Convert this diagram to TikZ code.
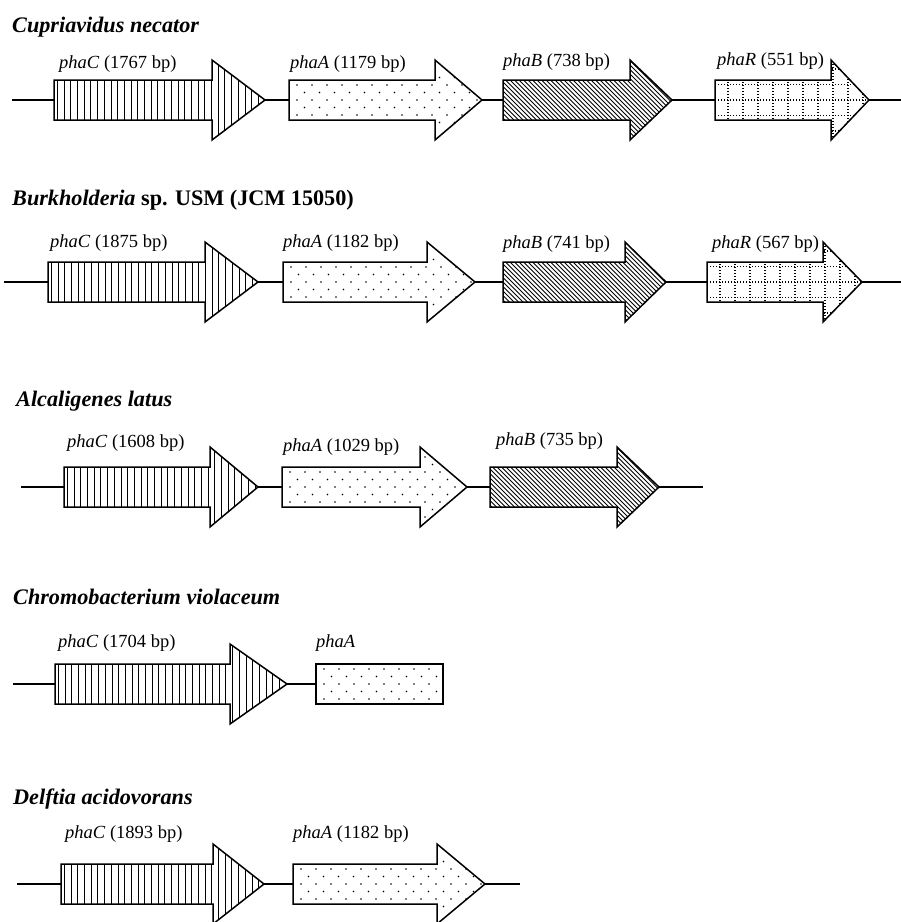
\documentclass[tikz,border=0pt]{standalone}
\usepackage{fontspec}
\setmainfont{Liberation Serif}
\tikzset{
  geneoutline/.style={draw=black, line width=1.5pt, line join=miter},
  backbone/.style={draw=black, line width=1.1pt},
  stripe/.style={draw=black, line width=0.9pt},
  hatchline/.style={draw=black, line width=0.75pt},
  griddot/.style={draw=black, line width=1.05pt, dash pattern=on 1.4pt off 1.6pt},
  titletext/.style={anchor=base west, inner sep=0pt, font=\fontsize{22.2}{25}\selectfont\bfseries},
  labeltext/.style={anchor=base west, inner sep=0pt, font=\fontsize{18.5}{21}\selectfont},
}
% patterns: #1 x-start, #2 x-end, #3 centre y
\newcommand\patstripes[3]{%
  \foreach \k in {0,...,45}{\draw[stripe] ({#1+3.4+6.7*\k},#3-45) -- ++(0,90);}}
\newcommand\patdots[3]{%
  \foreach \j in {-4,-2,0,2,4}{\foreach \k in {0,...,14}{\fill ({#1+8+15*\k},{#3+7.5*\j}) circle (0.9);}}%
  \foreach \j in {-5,-3,-1,1,3,5}{\foreach \k in {0,...,14}{\fill ({#1+15.5+15*\k},{#3+7.5*\j}) circle (0.9);}}}
\newcommand\pathatch[3]{%
  \foreach \k in {0,...,68}{\draw[hatchline] ({#1-90+4.5*\k},#3-45) -- ++(90,90);}}
\newcommand\patgrid[3]{%
  \foreach \k in {0,...,12}{\draw[griddot] ({#1+13+15*\k},#3-45) -- ++(0,90);}%
  \foreach \j in {-3,...,3}{\draw[griddot] (#1,{#3+15.5*\j}) -- ++(200,0);}}
% gene arrow: #1 name, #2 start x, #3 head base x, #4 tip x, #5 centre y, #6 pattern
\newcommand\gene[6]{%
  \coordinate (#1s) at (#2,#5);
  \coordinate (#1e) at (#4,#5);
  \begin{scope}
    \clip (#2,#5-20) -- (#3,#5-20) -- (#3,#5-40) -- (#4,#5) -- (#3,#5+40) -- (#3,#5+20) -- (#2,#5+20) -- cycle;
    #6{#2}{#4}{#5}
  \end{scope}
  \draw[geneoutline] (#2,#5-20) -- (#3,#5-20) -- (#3,#5-40) -- (#4,#5) -- (#3,#5+40) -- (#3,#5+20) -- (#2,#5+20) -- cycle;
}
\begin{document}
\begin{tikzpicture}[x=1pt,y=-1pt]
\useasboundingbox (0,0) rectangle (901,922);

% ---------------- Row 1: Cupriavidus necator
\node[titletext] (t1) at (12,32) {\itshape Cupriavidus necator};
\coordinate (r1a) at (12,100);
\coordinate (r1z) at (901,100);
\gene{c1}{54}{212}{265}{100}{\patstripes}
\gene{a1}{289}{435}{482}{100}{\patdots}
\gene{b1}{503}{630}{672}{100}{\pathatch}
\gene{r1}{715}{831}{869}{100}{\patgrid}
\draw[backbone] (r1a) -- (c1s);
\draw[backbone] (c1e) -- (a1s);
\draw[backbone] (a1e) -- (b1s);
\draw[backbone] (b1e) -- (r1s);
\draw[backbone] (r1e) -- (r1z);
\node[labeltext] (lc1) at (59,68) {\textit{phaC} (1767 bp)};
\node[labeltext] (la1) at (290,68) {\textit{phaA} (1179 bp)};
\node[labeltext] (lb1) at (503,66) {\textit{phaB} (738 bp)};
\node[labeltext] (lr1) at (717,65) {\textit{phaR} (551 bp)};

% ---------------- Row 2: Burkholderia
\node[titletext] (t2) at (12,205) {\textit{Burkholderia} sp. USM (JCM 15050)};
\coordinate (r2a) at (4,282);
\coordinate (r2z) at (901,282);
\gene{c2}{48}{205}{258}{282}{\patstripes}
\gene{a2}{283}{427}{475}{282}{\patdots}
\gene{b2}{503}{625}{666}{282}{\pathatch}
\gene{r2}{707}{823}{862}{282}{\patgrid}
\draw[backbone] (r2a) -- (c2s);
\draw[backbone] (c2e) -- (a2s);
\draw[backbone] (a2e) -- (b2s);
\draw[backbone] (b2e) -- (r2s);
\draw[backbone] (r2e) -- (r2z);
\node[labeltext] (lc2) at (50,247) {\textit{phaC} (1875 bp)};
\node[labeltext] (la2) at (283,247) {\textit{phaA} (1182 bp)};
\node[labeltext] (lb2) at (503,248) {\textit{phaB} (741 bp)};
\node[labeltext] (lr2) at (712,248) {\textit{phaR} (567 bp)};

% ---------------- Row 3: Alcaligenes latus
\node[titletext] (t3) at (16,406) {\itshape Alcaligenes latus};
\coordinate (r3a) at (21,487);
\coordinate (r3z) at (703,487);
\gene{c3}{64}{210}{258}{487}{\patstripes}
\gene{a3}{282}{420}{467}{487}{\patdots}
\gene{b3}{490}{617}{659}{487}{\pathatch}
\draw[backbone] (r3a) -- (c3s);
\draw[backbone] (c3e) -- (a3s);
\draw[backbone] (a3e) -- (b3s);
\draw[backbone] (b3e) -- (r3z);
\node[labeltext] (lc3) at (67,447) {\textit{phaC} (1608 bp)};
\node[labeltext] (la3) at (283,451) {\textit{phaA} (1029 bp)};
\node[labeltext] (lb3) at (496,445) {\textit{phaB} (735 bp)};

% ---------------- Row 4: Chromobacterium violaceum
\node[titletext] (t4) at (13,604) {\itshape Chromobacterium violaceum};
\coordinate (r4a) at (13,684);
\gene{c4}{55}{230}{287}{684}{\patstripes}
\coordinate (a4s) at (316,684);
\begin{scope}
  \clip (316,664) rectangle (443,704);
  \patdots{316}{443}{684}
\end{scope}
\draw[geneoutline] (316,664) rectangle (443,704);
\draw[backbone] (r4a) -- (c4s);
\draw[backbone] (c4e) -- (a4s);
\node[labeltext] (lc4) at (58,647) {\textit{phaC} (1704 bp)};
\node[labeltext] (la4) at (316,647) {\textit{phaA}};

% ---------------- Row 5: Delftia acidovorans
\node[titletext] (t5) at (13,804) {\itshape Delftia acidovorans};
\coordinate (r5a) at (17,884);
\coordinate (r5z) at (520,884);
\gene{c5}{61}{213}{264}{884}{\patstripes}
\gene{a5}{293}{437}{485}{884}{\patdots}
\draw[backbone] (r5a) -- (c5s);
\draw[backbone] (c5e) -- (a5s);
\draw[backbone] (a5e) -- (r5z);
\node[labeltext] (lc5) at (65,838) {\textit{phaC} (1893 bp)};
\node[labeltext] (la5) at (293,838) {\textit{phaA} (1182 bp)};
\end{tikzpicture}
\end{document}
